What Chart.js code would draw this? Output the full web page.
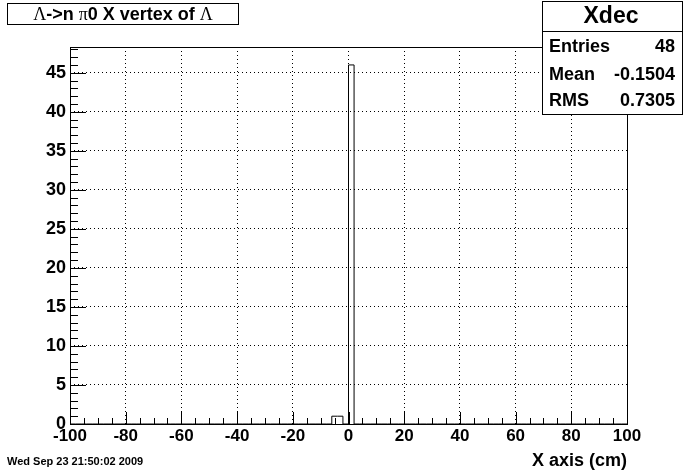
<!DOCTYPE html>
<html>
<head>
<meta charset="utf-8">
<script src="https://cdn.jsdelivr.net/npm/chart.js@4"></script>
<style>
    html, body { margin: 0; padding: 0; background: #fff; }
    #wrap { width: 696px; height: 472px; }
</style>
</head>
<body>
<div id="wrap"><canvas id="grafikXdec" width="696" height="472"></canvas></div>
<script>
// histogram Xdec: bins of width 2 from -100 to 100, only filled bins listed
const binWidth = 2;
const binLow = [-6, -4, 0];
const binCount = [1, 1, 46];
const xRange = [-100, 100];
const yMax = 48.3;

const xTicks = [-100, -80, -60, -40, -20, 0, 20, 40, 60, 80, 100];
const yTicks = [0, 5, 10, 15, 20, 25, 30, 35, 40, 45];
const xMinorStep = 5;
const yMinorStep = 1;

const statName = 'Xdec';
const statLabels = ['Entries', 'Mean', 'RMS'];
const statValues = ['48', '-0.1504', '0.7305'];
const datum = 'Wed Sep 23 21:50:02 2009';

const sans = '"Liberation Sans", Arial, Helvetica, sans-serif';
const serif = '"Liberation Serif", "DejaVu Serif", serif';

// outline of the histogram: one point per bin lower edge, value held to the next edge
function buatGaris() {
    let titik = [];
    for (let e = xRange[0]; e < xRange[1]; e += binWidth) {
        let idx = binLow.indexOf(e);
        titik.push({ x: e, y: idx >= 0 ? binCount[idx] : 0 });
    }
    titik.push({ x: xRange[1], y: 0 });
    return titik;
}

const bingkaiPlugin = {
    id: 'bingkai',
    afterDatasetsDraw(chart) {
        const ctx = chart.ctx;
        const a = chart.chartArea;
        const sx = chart.scales.x;
        const sy = chart.scales.y;
        const px = v => Math.round(v) + 0.5;
        ctx.save();
        ctx.strokeStyle = '#000';
        ctx.lineWidth = 1;
        ctx.setLineDash([]);
        ctx.beginPath();
        // x ticks (inside the frame)
        for (let v = xRange[0]; v <= xRange[1]; v += xMinorStep) {
            let len = xTicks.includes(v) ? 12 : 6;
            let x = px(sx.getPixelForValue(v));
            ctx.moveTo(x, a.bottom);
            ctx.lineTo(x, a.bottom - len);
        }
        // y ticks
        for (let v = 0; v <= yMax; v += yMinorStep) {
            let len = yTicks.includes(v) ? 16 : 8;
            let y = px(sy.getPixelForValue(v));
            ctx.moveTo(a.left, y);
            ctx.lineTo(a.left + len, y);
        }
        ctx.stroke();
        ctx.strokeRect(px(a.left), px(a.top), Math.round(a.right - a.left), Math.round(a.bottom - a.top));
        ctx.restore();
    },
    afterDraw(chart) {
        const ctx = chart.ctx;
        ctx.save();
        ctx.strokeStyle = '#000';
        ctx.fillStyle = '#000';
        ctx.lineWidth = 1;

        // title box with greek letters
        ctx.fillStyle = '#fff';
        ctx.fillRect(7, 3, 232, 22);
        ctx.strokeRect(7.5, 3.5, 231, 21);
        ctx.fillStyle = '#000';
        const potongan = [
            ['\u039B', serif, ''],
            ['->n ', sans, 'bold '],
            ['\u03C0', serif, ''],
            ['0 X vertex of ', sans, 'bold '],
            ['\u039B', serif, '']
        ];
        let total = 0;
        potongan.forEach(p => {
            ctx.font = p[2] + '18px ' + p[1];
            total += ctx.measureText(p[0]).width;
        });
        let x = 123 - total / 2;
        ctx.textBaseline = 'middle';
        ctx.textAlign = 'left';
        potongan.forEach(p => {
            ctx.font = p[2] + '18px ' + p[1];
            ctx.fillText(p[0], x, 15);
            x += ctx.measureText(p[0]).width;
        });

        // stats box
        ctx.fillStyle = '#fff';
        ctx.fillRect(542, 1, 141, 114);
        ctx.fillStyle = '#000';
        ctx.strokeRect(542.5, 1.5, 140, 113);
        ctx.beginPath();
        ctx.moveTo(542, 31.5);
        ctx.lineTo(683, 31.5);
        ctx.stroke();
        ctx.font = 'bold 23px ' + sans;
        ctx.textAlign = 'center';
        ctx.fillText(statName, 611, 17);
        ctx.font = 'bold 18px ' + sans;
        const barisY = [47, 75, 101];
        statLabels.forEach((lbl, i) => {
            ctx.textAlign = 'left';
            ctx.fillText(lbl, 549, barisY[i]);
            ctx.textAlign = 'right';
            ctx.fillText(statValues[i], 675, barisY[i]);
        });

        // date stamp
        ctx.font = 'bold 11px ' + sans;
        ctx.textAlign = 'left';
        ctx.fillText(datum, 7, 462);
        ctx.restore();
    }
};

new Chart('grafikXdec', {
    type: 'line',
    data: {
        datasets: [{
            label: statName,
            data: buatGaris(),
            stepped: 'before',
            borderColor: '#000',
            borderWidth: 1,
            pointRadius: 0,
            fill: false
        }]
    },
    options: {
        responsive: false,
        animation: false,
        events: [],
        layout: { padding: { top: 47, right: 69, left: 0, bottom: 0 } },
        plugins: {
            legend: { display: false },
            tooltip: { enabled: false }
        },
        scales: {
            x: {
                type: 'linear',
                min: xRange[0],
                max: xRange[1],
                afterBuildTicks: function (s) {
                    s.ticks = xTicks.map(v => ({ value: v }));
                },
                afterFit: function (s) { s.height = 48; },
                grid: { color: '#000', lineWidth: 1, drawTicks: false },
                border: { display: false, dash: [1, 3] },
                ticks: {
                    color: '#000',
                    maxRotation: 0,
                    autoSkip: false,
                    padding: 4,
                    font: { family: sans, weight: 'bold', size: 17, lineHeight: 1 }
                },
                title: {
                    display: true,
                    text: 'X axis (cm)',
                    align: 'end',
                    color: '#000',
                    padding: { top: 0, bottom: 0 },
                    font: { family: sans, weight: 'bold', size: 18, lineHeight: 1.2 }
                }
            },
            y: {
                min: 0,
                max: yMax,
                afterBuildTicks: function (s) {
                    s.ticks = yTicks.map(v => ({ value: v }));
                },
                afterFit: function (s) { s.width = 70; },
                grid: { color: '#000', lineWidth: 1, drawTicks: false },
                border: { display: false, dash: [1, 3] },
                ticks: {
                    color: '#000',
                    padding: 4,
                    font: { family: sans, weight: 'bold', size: 18, lineHeight: 1 }
                }
            }
        }
    },
    plugins: [bingkaiPlugin]
});
</script>
</body>
</html>
